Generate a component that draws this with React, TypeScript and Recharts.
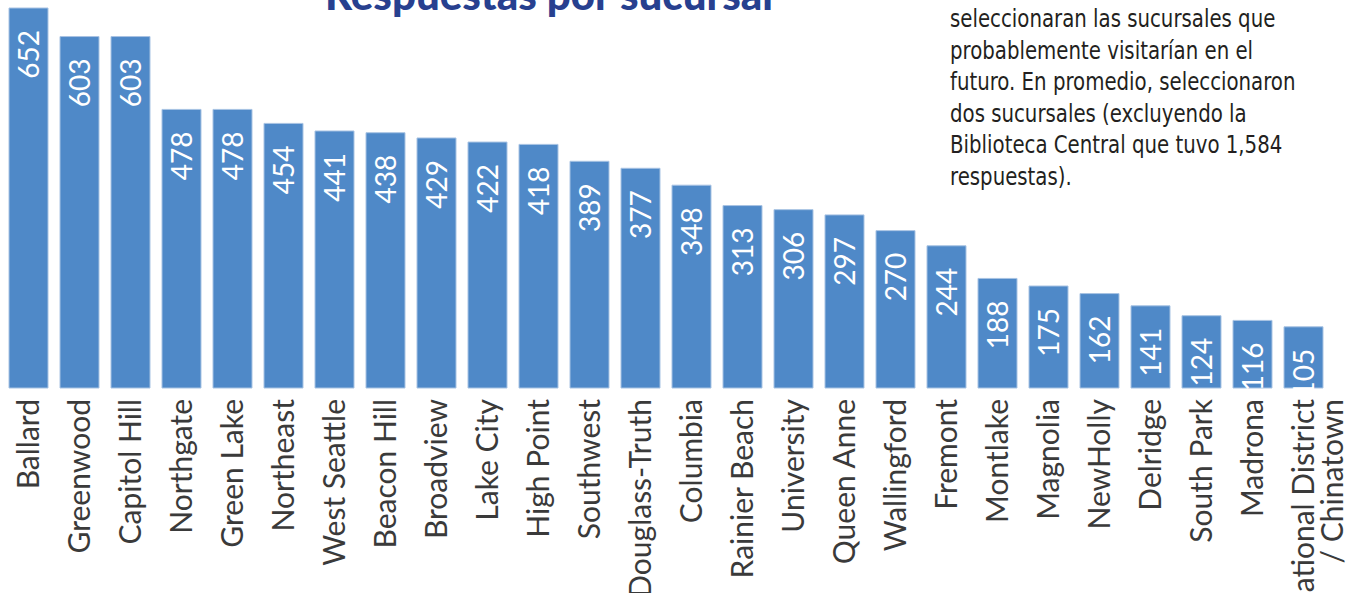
import React from 'react';
import { BarChart, Bar, XAxis, YAxis, LabelList } from 'recharts';

const branches = [
  'Ballard', 'Greenwood', 'Capitol Hill', 'Northgate', 'Green Lake', 'Northeast',
  'West Seattle', 'Beacon Hill', 'Broadview', 'Lake City', 'High Point', 'Southwest',
  'Douglass-Truth', 'Columbia', 'Rainier Beach', 'University', 'Queen Anne', 'Wallingford',
  'Fremont', 'Montlake', 'Magnolia', 'NewHolly', 'Delridge', 'South Park', 'Madrona',
  'International District\n/ Chinatown',
];

const responses = [
  652, 603, 603, 478, 478, 454, 441, 438, 429, 422, 418, 389, 377, 348, 313, 306,
  297, 270, 244, 188, 175, 162, 141, 124, 116, 105,
];

const titleText = 'Respuestas por sucursal';

const noteLines = [
  'seleccionaran las sucursales que',
  'probablemente visitarían en el',
  'futuro. En promedio, seleccionaron',
  'dos sucursales (excluyendo la',
  'Biblioteca Central que tuvo 1,584',
  'respuestas).',
];

const data = branches.map((name, i) => ({ name, value: responses[i] }));

const LABEL_FONT = 'Lato, "Open Sans", sans-serif';

const BranchTick = (props: any) => {
  const { x, y, payload } = props;
  const lines = String(payload.value).split('\n');
  const ty = y + 3;
  return (
    <g>
      {lines.map((line, i) => (
        <text
          key={i}
          x={x}
          y={ty}
          dy={`${0.35 + i * 0.95}em`}
          transform={`rotate(-90, ${x}, ${ty})`}
          textAnchor="end"
          fill="#3a3a3a"
          fontSize={30}
          fontFamily={LABEL_FONT}
        >
          {line}
        </text>
      ))}
    </g>
  );
};

const ValueLabel = (props: any) => {
  const { x, y, width, value } = props;
  const cx = x + width / 2;
  const cy = y + 22;
  return (
    <text
      x={cx}
      y={cy}
      dy="0.36em"
      transform={`rotate(-90, ${cx}, ${cy})`}
      textAnchor="end"
      fill="#ffffff"
      fontSize={28}
      fontFamily={LABEL_FONT}
    >
      {value}
    </text>
  );
};

export default function App() {
  return (
    <div style={{ position: 'absolute', left: 0, top: 0, width: 1358, height: 593, background: '#ffffff' }}>
      <BarChart
        width={1358}
        height={593}
        data={data}
        margin={{ top: 8, right: 29, left: 3, bottom: 0 }}
        barCategoryGap={6}
      >
        <XAxis
          dataKey="name"
          interval={0}
          axisLine={false}
          tickLine={false}
          height={205}
          tick={<BranchTick />}
        />
        <YAxis hide domain={[0, 652]} />
        <Bar dataKey="value" fill="#4F89C8" stroke="#A8C3E3" strokeWidth={1} isAnimationActive={false}>
          <LabelList dataKey="value" content={<ValueLabel />} />
        </Bar>
      </BarChart>
      <svg
        width={1358}
        height={593}
        style={{ position: 'absolute', left: 0, top: 0, pointerEvents: 'none' }}
      >
        <text x={325} y={10} fill="#27408F" fontSize={42} fontWeight={900} fontFamily={LABEL_FONT}>
          {titleText}
        </text>
        <g transform="translate(950, 0) scale(0.915, 1)">
          {noteLines.map((line, i) => (
            <text
              key={i}
              x={0}
              y={27 + i * 31.6}
              fill="#231F20"
              fontSize={24}
              fontFamily={'"Liberation Sans Narrow", "DejaVu Sans Condensed", Roboto, sans-serif'}
            >
              {line}
            </text>
          ))}
        </g>
      </svg>
    </div>
  );
}
